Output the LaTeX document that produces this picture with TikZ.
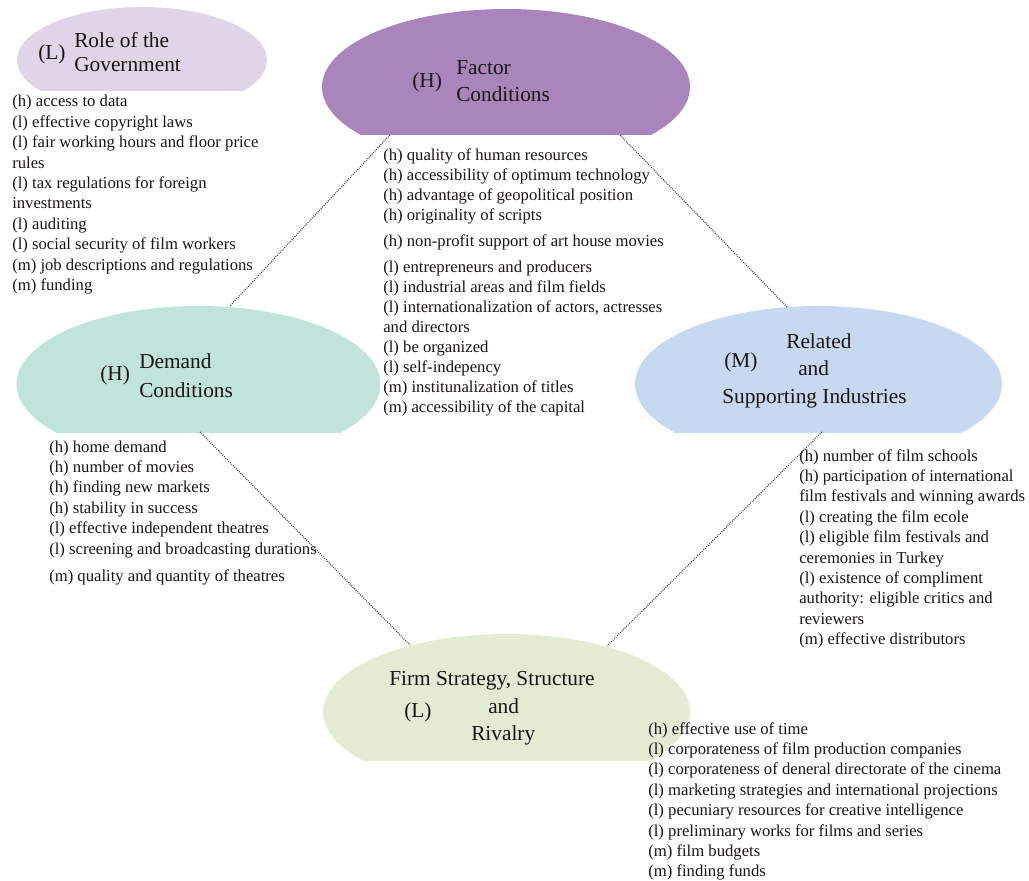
\documentclass[tikz,border=0pt]{standalone}
\usepackage{fontspec}
\setmainfont{Liberation Serif}
\definecolor{govc}{RGB}{224,213,232}
\definecolor{facc}{RGB}{169,133,187}
\definecolor{demc}{RGB}{192,227,218}
\definecolor{relc}{RGB}{198,217,240}
\definecolor{firmc}{RGB}{227,236,211}
\definecolor{linkc}{RGB}{70,70,70}
\definecolor{txtc}{RGB}{25,20,20}
\begin{document}
\begin{tikzpicture}[x=0.75pt,y=-0.75pt,
  title/.style={anchor=base west, inner sep=0pt, text=txtc, font=\fontsize{16}{19}\selectfont},
  itemlist/.style={anchor=base west, inner sep=0pt, text=txtc, font=\fontsize{12.5}{15.3}\selectfont},
  link/.style={draw=linkc, line width=0.9pt, dash pattern=on 0.7pt off 0.9pt}]
\useasboundingbox (0,0) rectangle (1029,881);

% ---- clipped ellipses ----
\begin{scope}
  \clip (10,0) rectangle (275,91);
  \fill[govc] (142,60) ellipse [x radius=93.75pt, y radius=39.75pt];
\end{scope}
\begin{scope}
  \clip (315,0) rectangle (700,135);
  \fill[facc] (506,87) ellipse [x radius=138pt, y radius=58.5pt];
\end{scope}
\begin{scope}
  \clip (10,300) rectangle (390,432);
  \fill[demc] (198.5,384) ellipse [x radius=136.5pt, y radius=58.5pt];
\end{scope}
\begin{scope}
  \clip (625,300) rectangle (1010,432);
  \fill[relc] (818.5,384) ellipse [x radius=137.6pt, y radius=58.5pt];
\end{scope}
\begin{scope}
  \clip (315,625) rectangle (700,760);
  \fill[firmc] (506.5,712) ellipse [x radius=137.6pt, y radius=58.5pt];
\end{scope}

% ---- connector end points ----
\coordinate (facSW) at (390,135);
\coordinate (facSE) at (620,135);
\coordinate (demN) at (230,306);
\coordinate (demS) at (200,432);
\coordinate (relN) at (787,307);
\coordinate (relS) at (822,432);
\coordinate (firmNW) at (410,645);
\coordinate (firmNE) at (607,646);

\draw[link] (facSW) -- (demN);
\draw[link] (facSE) -- (relN);
\draw[link] (demS) -- (firmNW);
\draw[link] (relS) -- (firmNE);

% ---- titles ----
\node[title] (govL) at (38,60) {(L)};
\node[title] (govT1) at (74,48) {Role of the};
\node[title] (govT2) at (74,72) {Government};

\node[title] (facH) at (412,88) {(H)};
\node[title] (facT1) at (456,75) {Factor};
\node[title] (facT2) at (456,102) {Conditions};

\node[title] (demH) at (100,380) {(H)};
\node[title] (demT1) at (139,368) {Demand};
\node[title] (demT2) at (139,397) {Conditions};

\node[title] (relM) at (724,367) {(M)};
\node[title] (relT1) at (786,348) {Related};
\node[title] (relT2) at (798,375) {and};
\node[title] (relT3) at (722,403) {Supporting Industries};

\node[title] (firmT1) at (389,685) {Firm Strategy, Structure};
\node[title] (firmL) at (404,717) {(L)};
\node[title] (firmT2) at (488,713) {and};
\node[title] (firmT3) at (471,740) {Rivalry};

% ---- lists ----
\node[itemlist] (govlist) at (12,107) {\begin{tabular}[t]{@{}l@{}}
(h) access to data\\
(l) effective copyright laws\\
(l) fair working hours and floor price\\
rules\\
(l) tax regulations for foreign\\
investments\\
(l) auditing\\
(l) social security of film workers\\
(m) job descriptions and regulations\\
(m) funding
\end{tabular}};

\node[itemlist] (faclist) at (383,161) {\fontsize{12.5}{15}\selectfont\begin{tabular}[t]{@{}l@{}}
(h) quality of human resources\\
(h) accessibility of optimum technology\\
(h) advantage of geopolitical position\\
(h) originality of scripts\\[4.5pt]
(h) non-profit support of art house movies\\[4pt]
(l) entrepreneurs and producers\\
(l) industrial areas and film fields\\
(l) internationalization of actors, actresses\\
and directors\\
(l) be organized\\
(l) self-indepency\\
(m) institunalization of titles\\
(m) accessibility of the capital
\end{tabular}};

\node[itemlist] (demlist) at (49,452) {\begin{tabular}[t]{@{}l@{}}
(h) home demand\\
(h) number of movies\\
(h) finding new markets\\
(h) stability in success\\
(l) effective independent theatres\\
(l) screening and broadcasting durations\\[5pt]
(m) quality and quantity of theatres
\end{tabular}};

\node[itemlist] (rellist) at (799,461) {\begin{tabular}[t]{@{}l@{}}
(h) number of film schools\\
(h) participation of international\\
film festivals and winning awards\\
(l) creating the film ecole\\
(l) eligible film festivals and\\
ceremonies in Turkey\\
(l) existence of compliment\\
authority: eligible critics and\\
reviewers\\
(m) effective distributors
\end{tabular}};

\node[itemlist] (firmlist) at (648,734) {\begin{tabular}[t]{@{}l@{}}
(h) effective use of time\\
(l) corporateness of film production companies\\
(l) corporateness of deneral directorate of the cinema\\
(l) marketing strategies and international projections\\
(l) pecuniary resources for creative intelligence\\
(l) preliminary works for films and series\\
(m) film budgets\\
(m) finding funds
\end{tabular}};
\end{tikzpicture}
\end{document}
